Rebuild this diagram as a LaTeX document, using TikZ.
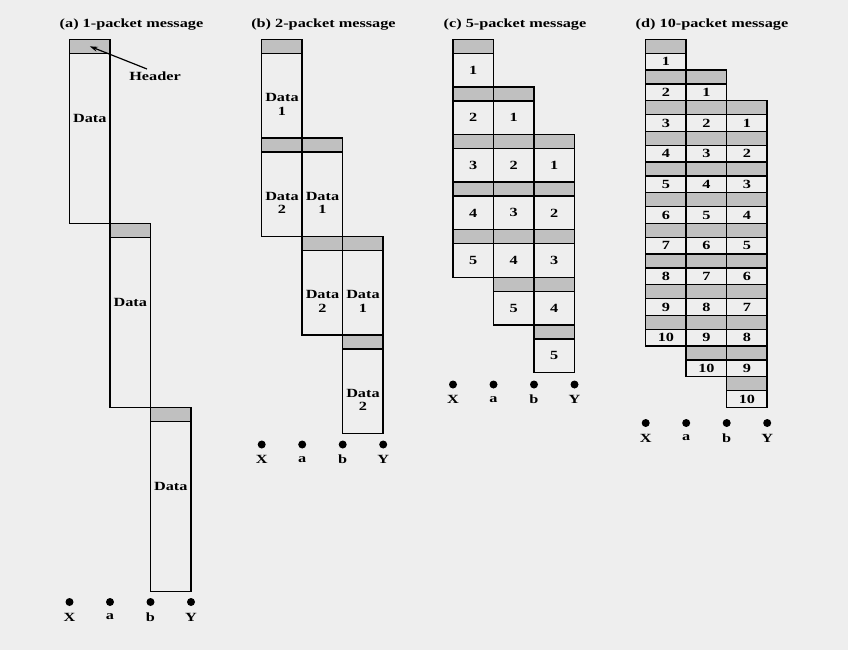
\documentclass[tikz,border=0pt]{standalone}
\usepackage{fontspec}
\setmainfont{Liberation Serif}[FakeStretch=1.3]
\usetikzlibrary{arrows.meta}
\definecolor{bg}{HTML}{EEEEEE}
\definecolor{hdrgray}{HTML}{C0C0C0}
\begin{document}
\begin{tikzpicture}[x=1pt,y=-1pt,
  font=\fontsize{12.5}{13.5}\selectfont\bfseries,
  box/.style={draw, line width=1.5pt, inner sep=0pt, outer sep=0pt, anchor=north west, minimum width=40.5pt},
  hdrbox/.style={box, fill=hdrgray, minimum height=14pt},
  databox/.style={box, fill=bg},
  dot/.style={circle, fill=black, inner sep=0pt, minimum size=8pt},
  txt/.style={inner sep=0pt, align=center},
  ttl/.style={inner sep=0pt, anchor=center}]
\fill[bg] (0,0) rectangle (848,650);
\useasboundingbox (0,0) rectangle (848,650);
% titles
\node[ttl] (ta) at (131.5,25) {(a) 1-packet message};
\node[ttl] (tb) at (323.5,25) {(b) 2-packet message};
\node[ttl] (tc) at (515,25) {(c) 5-packet message};
\node[ttl] (td) at (712,25) {(d) 10-packet message};
% panel (a)
\foreach \c in {0,1,2}{
  \pgfmathsetmacro\top{39.3+\c*184}
  \pgfmathsetmacro\lx{69.5+\c*40.5}
  \node[hdrbox] (a-\c-1-h) at (\lx,\top) {};
  \node[databox, minimum height=170pt] (a-\c-1-d) at (\lx,\top+14) {};
  \node[txt] (a-\c-1-t) at (\lx+20.25,\top+79) {Data};
}
\node[txt] (hdrlbl) at (155,76) {Header};
\coordinate (hdrtail) at (147,69);
\draw[-{Stealth[length=8pt,width=5pt]}, line width=1.2pt] (hdrtail) -- (a-0-1-h.center);
% panel (b)
\foreach \c in {0,1,2}{
  \foreach \k in {1,2}{
    \pgfmathsetmacro\top{39.3+(\c+\k-1)*98.5}
    \pgfmathsetmacro\lx{261.7+\c*40.5}
    \node[hdrbox] (b-\c-\k-h) at (\lx,\top) {};
    \node[databox, minimum height=84.5pt] (b-\c-\k-d) at (\lx,\top+14) {};
    \node[txt] (b-\c-\k-t) at (\lx+20.25,\top+65) {Data\\\k};
  }
}
% panel (c)
\foreach \c in {0,1,2}{
  \foreach \k in {1,...,5}{
    \pgfmathsetmacro\top{39.3+(\c+\k-1)*47.6}
    \pgfmathsetmacro\lx{453+\c*40.5}
    \node[hdrbox] (c-\c-\k-h) at (\lx,\top) {};
    \node[databox, minimum height=33.6pt] (c-\c-\k-d) at (\lx,\top+14) {\k};
  }
}
% panel (d)
\foreach \c in {0,1,2}{
  \foreach \k in {1,...,10}{
    \pgfmathsetmacro\top{39.3+(\c+\k-1)*30.67}
    \pgfmathsetmacro\lx{645.7+\c*40.5}
    \node[hdrbox] (d-\c-\k-h) at (\lx,\top) {};
    \node[databox, minimum height=16.67pt] (d-\c-\k-d) at (\lx,\top+14) {\k};
  }
}
% dots and labels
\foreach \p/\lx/\yd in {a/69.5/602, b/261.7/444.5, c/453/384.5, d/645.7/423}{
  \foreach \n/\lab [count=\i from 0] in {X/X, a/a, b/b, Y/Y}{
    \node[dot] (\p-dot-\n) at (\lx+\i*40.5,\yd) {};
    \node[txt] (\p-lab-\n) at (\lx+\i*40.5,\yd+15) {\lab};
  }
}
\end{tikzpicture}
\end{document}
